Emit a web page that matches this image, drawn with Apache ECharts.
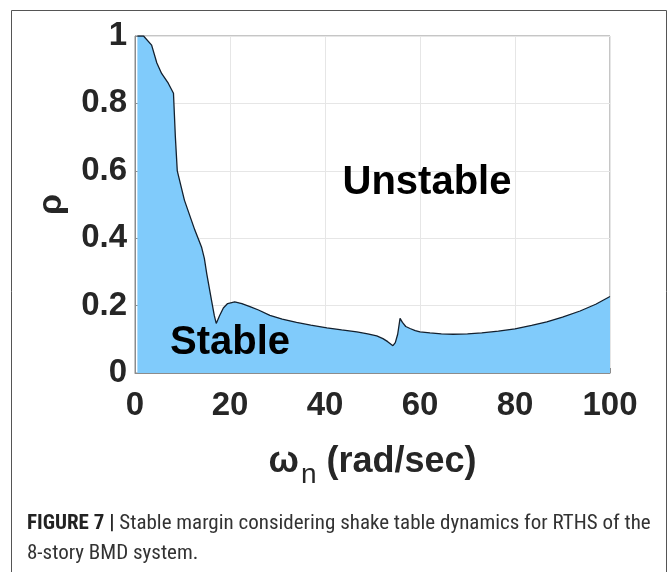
<!DOCTYPE html>
<html>
<head>
<meta charset="utf-8">
<script src="https://cdn.jsdelivr.net/npm/echarts@6/dist/echarts.min.js"></script>
<style>
html,body{margin:0;padding:0;background:#fff;}
#chart{width:669px;height:572px;}
</style>
</head>
<body>
<div id="chart"></div>
<script>
// Data (omega_n in rad/sec, rho)
var omegaN = [0.5, 1.8, 3.5, 4.6, 5.6, 7, 8.1, 8.5, 8.9, 10.4, 12.6, 14.0, 14.6, 15.1, 16.1, 16.7, 17.1, 17.8, 18.6, 19.5, 21, 22.5, 24.2, 26, 28.4, 31, 34, 37, 40.4, 43.5, 46.7, 49, 50.9, 52.2, 53.2, 54.3, 54.8, 55.3, 55.8, 56.3, 57, 57.9, 59, 60, 62.1, 64.5, 67, 70, 73, 76.5, 80, 83.5, 86.7, 90, 93.7, 97, 100];
var rho = [1.0, 1.0, 0.973, 0.92, 0.889, 0.86, 0.83, 0.70, 0.60, 0.513, 0.424, 0.374, 0.34, 0.295, 0.216, 0.17, 0.147, 0.170, 0.193, 0.206, 0.211, 0.206, 0.197, 0.187, 0.171, 0.160, 0.150, 0.142, 0.134, 0.128, 0.122, 0.116, 0.110, 0.102, 0.093, 0.081, 0.090, 0.115, 0.162, 0.150, 0.138, 0.132, 0.126, 0.122, 0.119, 0.116, 0.115, 0.116, 0.119, 0.124, 0.131, 0.141, 0.152, 0.166, 0.184, 0.204, 0.227];
var xTicks = [0, 20, 40, 60, 80, 100];
var yTicks = [0, 0.2, 0.4, 0.6, 0.8, 1];
var regionLabels = ['Unstable', 'Stable'];
var captionBold = 'FIGURE 7 |';
var captionText = ' Stable margin considering shake table dynamics for RTHS of the\n8-story BMD system.';

var pts = omegaN.map(function (x, i) { return [x, rho[i]]; });
var chart = echarts.init(document.getElementById('chart'), null, {renderer: 'canvas'});
var FONT = 'Liberation Sans, Arial, Helvetica, sans-serif';
var CAPFONT = 'Liberation Sans Narrow, Roboto Condensed, Arial Narrow, sans-serif';
var axisCol = '#8c8c8c';
var option = {
  animation: false,
  backgroundColor: '#fff',
  grid: {left: 135, right: 59, top: 36, bottom: 199, show: true, borderColor: axisCol, borderWidth: 1, backgroundColor: 'transparent'},
  xAxis: {
    type: 'value', min: 0, max: 100, interval: 20,
    axisLine: {show: true, onZero: false, lineStyle: {color: axisCol, width: 1}},
    axisTick: {show: true, inside: true, length: 5, lineStyle: {color: axisCol}},
    splitLine: {show: true, lineStyle: {color: '#e6e6e6', width: 1}},
    axisLabel: {color: '#262626', fontSize: 33, fontWeight: 'bold', fontFamily: FONT, margin: 16,
      formatter: function (v) { return xTicks.indexOf(v) >= 0 ? String(v) : ''; }},
    name: '{w|ω}{sub|n}{t| (rad/sec)}',
    nameLocation: 'middle', nameGap: 62,
    nameTextStyle: {
      fontFamily: FONT, color: '#262626',
      rich: {
        w: {fontSize: 36, fontWeight: 'bold', fontFamily: FONT, color: '#262626'},
        sub: {fontSize: 28, fontWeight: 'normal', fontFamily: FONT, color: '#262626', padding: [26, 0, 0, 2]},
        t: {fontSize: 36, fontWeight: 'bold', fontFamily: FONT, color: '#262626'}
      }
    }
  },
  yAxis: {
    type: 'value', min: 0, max: 1, interval: 0.2,
    axisLine: {show: true, lineStyle: {color: axisCol, width: 1}},
    axisTick: {show: true, inside: true, length: 5, lineStyle: {color: axisCol}},
    splitLine: {show: true, lineStyle: {color: '#e6e6e6', width: 1}},
    axisLabel: {color: '#262626', fontSize: 33, fontWeight: 'bold', fontFamily: FONT, margin: 8,
      formatter: function (v) {
        var r = Math.round(v * 10) / 10;
        return yTicks.indexOf(r) >= 0 ? String(r) : '';
      }},
    name: 'ρ', nameLocation: 'middle', nameRotate: 90, nameGap: 66,
    nameTextStyle: {fontSize: 34, fontWeight: 'bold', fontFamily: FONT, color: '#262626'}
  },
  series: [{
    type: 'line', data: pts, showSymbol: false, symbol: 'none', smooth: false,
    lineStyle: {color: '#13202e', width: 1.3},
    areaStyle: {color: '#80CBFB', opacity: 1},
    z: 2
  }],
  graphic: [
    {type: 'rect', shape: {x: 11.5, y: 10.5, width: 655, height: 600}, style: {fill: 'none', stroke: '#555', lineWidth: 1}, z: 0, silent: true},
    {type: 'text', x: 427, y: 183, z: 10, style: {text: regionLabels[0], fontSize: 40, fontWeight: 'bold', fontFamily: FONT, fill: '#000', textAlign: 'center', textVerticalAlign: 'middle'}},
    {type: 'text', x: 230, y: 343, z: 10, style: {text: regionLabels[1], fontSize: 40, fontWeight: 'bold', fontFamily: FONT, fill: '#000', textAlign: 'center', textVerticalAlign: 'middle'}},
    {type: 'text', x: 27, y: 509, z: 10, style: {
      text: '{b|' + captionBold + '}{r|' + captionText.split('\n')[0] + '}\n{r|' + captionText.split('\n')[1] + '}',
      rich: {
        b: {fontSize: 21, fontWeight: 'bold', fontFamily: CAPFONT, fill: '#222', lineHeight: 30},
        r: {fontSize: 21, fontWeight: 'normal', fontFamily: CAPFONT, fill: '#333', lineHeight: 30}
      }
    }}
  ]
};
chart.setOption(option);
</script>
</body>
</html>
